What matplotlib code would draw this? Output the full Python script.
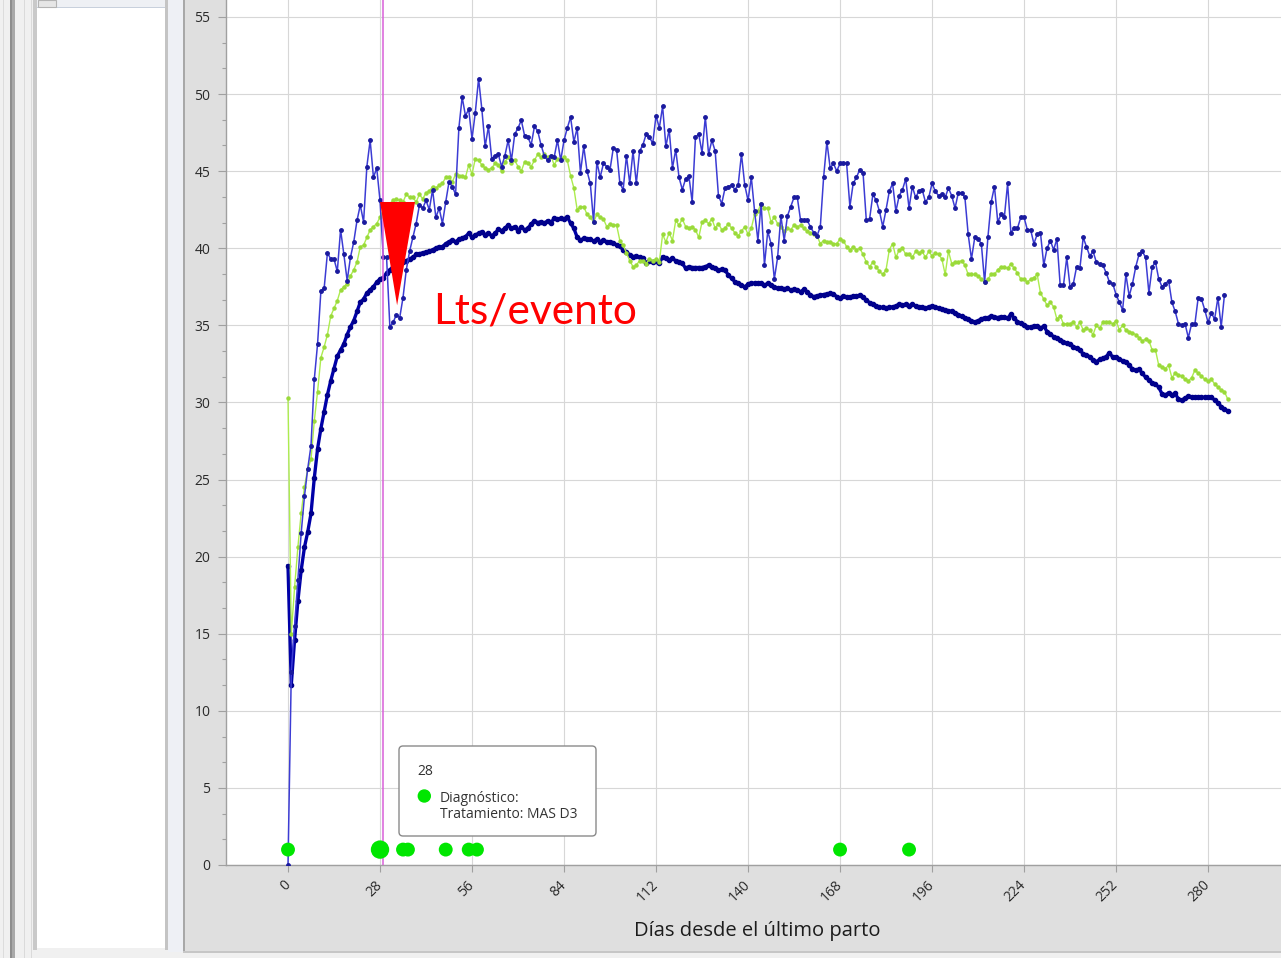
import numpy as np
import matplotlib
matplotlib.use('Agg')
import matplotlib.pyplot as plt
from matplotlib.patches import Rectangle, FancyBboxPatch, Circle
from matplotlib.transforms import IdentityTransform
from matplotlib import font_manager as fm

W, H = 1281, 958

installed = {f.name for f in fm.fontManager.ttflist}
UI_FONT = 'Open Sans' if 'Open Sans' in installed else 'DejaVu Sans'
BIG_FONT = 'Lato' if 'Lato' in installed else UI_FONT
plt.rcParams['font.family'] = [UI_FONT, 'DejaVu Sans']

# ---------------- data ----------------
# individual daily yield (thin blue), days 0..285
thin_blue = [
    0.0, 12.5, 15.5, 18.5, 21.5, 23.9, 25.7, 27.2, 31.5, 33.8,
    37.2, 37.4, 39.7, 39.3, 39.3, 38.5, 41.2, 39.6, 37.9, 39.4,
    40.4, 41.8, 42.8, 41.7, 45.3, 47.0, 44.6, 45.2, 43.1, 39.4,
    39.4, 34.9, 35.2, 35.7, 35.5, 36.8, 38.6, 39.8, 40.7, 41.6,
    42.8, 42.6, 43.1, 42.5, 43.8, 42.0, 42.6, 41.6, 43.0, 44.3,
    44.0, 43.5, 47.8, 49.8, 48.6, 49.0, 47.1, 48.8, 51.0, 49.0,
    46.6, 47.9, 45.8, 46.0, 46.1, 45.3, 46.0, 47.0, 45.7, 47.4,
    47.8, 48.3, 47.3, 47.2, 46.7, 47.9, 47.6, 46.7, 46.0, 45.7,
    46.0, 45.9, 47.0, 45.7, 47.0, 47.8, 48.5, 46.9, 47.8, 44.9,
    46.6, 45.0, 44.2, 41.7, 45.6, 44.6, 45.5, 45.3, 45.1, 46.5,
    46.4, 44.2, 43.8, 46.0, 44.2, 46.3, 44.2, 46.3, 46.7, 47.4,
    47.2, 46.8, 48.6, 47.8, 49.2, 46.6, 47.7, 45.2, 46.4, 44.6,
    43.8, 44.5, 44.7, 43.0, 47.2, 47.4, 46.2, 48.5, 46.1, 47.0,
    46.3, 43.4, 42.9, 43.9, 44.0, 44.1, 43.8, 44.1, 46.1, 44.1,
    43.1, 44.6, 42.4, 40.5, 42.9, 38.9, 41.1, 40.3, 38.0, 39.4,
    42.1, 40.5, 42.1, 42.7, 43.3, 43.3, 41.8, 41.8, 41.8, 41.4,
    41.0, 40.8, 41.4, 44.6, 46.9, 45.2, 45.5, 45.0, 45.5, 45.5,
    45.5, 42.7, 44.2, 44.6, 45.1, 44.9, 41.8, 41.9, 43.5, 43.1,
    42.4, 41.4, 42.5, 43.7, 44.2, 42.4, 43.4, 43.8, 44.5, 42.6,
    44.0, 43.3, 43.7, 43.8, 43.0, 43.3, 44.2, 43.7, 43.4, 43.5,
    43.3, 43.9, 43.4, 42.6, 43.6, 43.6, 43.3, 40.9, 39.3, 40.7,
    40.6, 40.3, 37.8, 40.7, 43.0, 44.0, 41.7, 42.2, 42.0, 44.2,
    41.0, 41.3, 41.3, 42.0, 42.0, 41.2, 41.2, 40.3, 40.9, 41.0,
    38.9, 40.0, 40.5, 39.9, 40.6, 37.6, 37.6, 39.4, 37.5, 37.7,
    38.8, 38.7, 40.7, 40.1, 39.5, 39.8, 39.1, 39.0, 38.9, 38.4,
    37.8, 37.7, 37.0, 36.5, 36.0, 38.3, 36.9, 37.7, 38.8, 39.6,
    39.8, 39.4, 37.1, 38.8, 39.1, 38.0, 37.5, 37.7, 37.9, 36.5,
    35.9, 35.1, 35.0, 35.1, 34.2, 35.1, 35.1, 36.8, 36.7, 36.0,
    35.2, 35.8, 35.4, 36.8, 34.9, 37.0,
]

# reference curve (light green), days 0..286
green_line = [
    30.3, 15.0, 18.0, 20.6, 22.8, 24.5, 25.7, 26.3, 28.8, 30.7,
    32.9, 33.6, 34.4, 35.6, 36.1, 36.6, 37.3, 37.5, 37.7, 38.2,
    38.6, 39.1, 40.1, 40.2, 40.7, 41.2, 41.4, 41.6, 42.0, 42.3,
    42.6, 42.9, 43.1, 43.2, 43.1, 43.0, 43.5, 43.3, 43.3, 43.0,
    43.5, 43.2, 43.6, 43.7, 44.0, 43.9, 44.1, 44.2, 44.6, 44.6,
    44.3, 44.8, 44.7, 44.7, 44.6, 45.4, 44.8, 45.8, 45.7, 45.4,
    45.2, 45.1, 45.2, 45.5, 45.4, 45.0, 45.6, 45.9, 45.5, 45.7,
    45.3, 45.0, 45.6, 45.5, 45.3, 45.7, 46.1, 45.9, 46.1, 45.9,
    46.0, 45.4, 45.8, 45.8, 45.9, 45.7, 44.7, 43.9, 42.5, 42.7,
    42.7, 42.2, 42.0, 41.7, 42.2, 42.0, 41.9, 41.4, 41.6, 41.5,
    41.5, 40.5, 40.2, 39.7, 39.2, 38.8, 38.9, 39.2, 39.2, 39.0,
    39.3, 39.2, 39.3, 39.1, 40.9, 40.4, 41.0, 40.5, 41.8, 41.5,
    41.9, 41.4, 41.3, 41.4, 41.2, 40.7, 41.7, 41.8, 41.6, 41.9,
    41.3, 41.6, 41.2, 41.3, 41.6, 41.3, 41.0, 40.8, 41.1, 41.4,
    40.9, 41.3, 42.2, 42.4, 42.9, 42.6, 42.6, 41.7, 42.0, 41.6,
    41.4, 41.1, 41.3, 41.2, 41.5, 41.4, 41.5, 41.3, 41.1, 41.0,
    40.9, 40.8, 40.3, 40.5, 40.4, 40.4, 40.3, 40.3, 40.6, 40.5,
    40.1, 39.9, 40.1, 39.9, 40.0, 39.6, 39.1, 38.8, 39.1, 38.8,
    38.5, 38.3, 38.6, 39.9, 40.3, 39.4, 39.9, 40.0, 39.6, 39.6,
    39.4, 39.8, 39.7, 39.8, 39.4, 39.8, 39.5, 39.7, 39.6, 39.3,
    38.3, 39.8, 39.0, 39.1, 39.1, 39.2, 38.9, 38.3, 38.3, 38.3,
    38.2, 38.0, 37.8, 38.0, 38.3, 38.3, 38.6, 38.8, 38.8, 38.7,
    39.0, 38.7, 38.4, 38.0, 38.0, 37.8, 38.0, 38.1, 38.3, 37.1,
    36.7, 36.3, 36.5, 36.2, 35.4, 35.6, 35.1, 35.1, 35.1, 35.2,
    34.9, 35.2, 34.7, 34.8, 34.7, 34.4, 35.0, 34.8, 35.2, 35.2,
    35.2, 35.1, 35.3, 34.7, 35.0, 34.7, 34.6, 34.5, 34.4, 34.2,
    34.0, 34.1, 34.0, 33.4, 33.4, 32.4, 32.3, 32.2, 32.4, 31.6,
    31.9, 31.8, 31.7, 31.5, 31.4, 31.6, 32.1, 31.9, 31.7, 31.5,
    31.4, 31.5, 31.2, 31.0, 30.8, 30.7, 30.2,
]

# smoothed curve (thick dark blue), days 0..286
thick_blue = [
    19.4, 11.7, 14.6, 17.1, 19.1, 20.6, 21.6, 22.8, 25.1, 27.0,
    28.3, 29.4, 30.5, 31.4, 32.2, 33.0, 33.4, 33.8, 34.4, 34.9,
    35.3, 35.9, 36.5, 36.7, 37.1, 37.3, 37.5, 37.8, 38.0, 38.1,
    38.4, 38.6, 38.8, 38.9, 39.0, 39.1, 39.2, 39.3, 39.4, 39.6,
    39.65, 39.7, 39.75, 39.8, 39.9, 40.0, 40.1, 40.1, 40.3, 40.42,
    40.53, 40.42, 40.58, 40.64, 40.75, 40.97, 40.71, 40.86, 40.97, 41.07,
    40.86, 41.01, 40.79, 40.97, 41.22, 41.14, 41.29, 41.50, 41.29, 41.40,
    41.14, 41.40, 41.18, 41.29, 41.57, 41.79, 41.66, 41.72, 41.61, 41.79,
    41.66, 41.94, 41.87, 41.94, 41.87, 42.05, 41.61, 41.29, 40.71, 40.53,
    40.64, 40.58, 40.58, 40.47, 40.58, 40.42, 40.53, 40.42, 40.42, 40.36,
    40.21, 40.14, 39.88, 39.77, 39.56, 39.45, 39.50, 39.40, 39.34, 39.06,
    39.19, 39.13, 39.19, 39.02, 39.45, 39.34, 39.23, 39.34, 39.19, 39.13,
    39.02, 38.70, 38.80, 38.75, 38.75, 38.75, 38.75, 38.80, 38.91, 38.80,
    38.70, 38.59, 38.64, 38.59, 38.26, 38.05, 37.83, 37.72, 37.61, 37.50,
    37.66, 37.76, 37.72, 37.76, 37.72, 37.61, 37.72, 37.61, 37.50, 37.40,
    37.45, 37.33, 37.40, 37.29, 37.33, 37.29, 37.18, 37.33, 37.18, 36.96,
    36.86, 36.91, 36.96, 37.00, 37.03, 37.07, 37.03, 36.86, 36.75, 36.90,
    36.86, 36.82, 36.90, 36.90, 36.96, 36.82, 36.64, 36.47, 36.38, 36.25,
    36.16, 36.16, 36.10, 36.16, 36.20, 36.25, 36.38, 36.30, 36.38, 36.25,
    36.38, 36.25, 36.16, 36.16, 36.10, 36.20, 36.25, 36.20, 36.10, 36.03,
    35.99, 35.95, 35.90, 35.80, 35.70, 35.60, 35.50, 35.40, 35.30, 35.20,
    35.30, 35.40, 35.50, 35.50, 35.60, 35.55, 35.50, 35.56, 35.52, 35.45,
    35.73, 35.45, 35.24, 35.13, 35.02, 34.91, 34.87, 34.96, 34.96, 34.80,
    34.96, 34.59, 34.44, 34.26, 34.16, 34.05, 33.94, 33.83, 33.79, 33.61,
    33.51, 33.40, 33.14, 33.07, 32.97, 32.75, 32.64, 32.79, 32.86, 32.97,
    33.23, 32.92, 32.92, 32.79, 32.71, 32.64, 32.43, 32.15, 32.10, 32.15,
    31.89, 31.63, 31.45, 31.28, 31.19, 30.98, 30.55, 30.48, 30.63, 30.48,
    30.59, 30.20, 30.16, 30.26, 30.42, 30.37, 30.33, 30.33, 30.33, 30.33,
    30.37, 30.33, 30.16, 29.98, 29.72, 29.55, 29.46,
]

event_days = [0, 28, 35, 36.5, 48, 55, 57.5, 168, 189]
event_level = 1
selected_event = 28
cursor_day = 28.8
x_ticks = list(range(0, 281, 28))
y_ticks = list(range(0, 56, 5))
x_label = 'Días desde el último parto'
annotation_text = 'Lts/evento'
tooltip_title = '28'
tooltip_lines = ['Diagnóstico:', 'Tratamiento: MAS D3']

# ---------------- figure & window chrome ----------------
fig = plt.figure(figsize=(W / 100, H / 100), dpi=100)
fig.patch.set_facecolor('#f0f0f0')
ID = IdentityTransform()


def px_rect(x0, y0, x1, y1, color, z=-10, ec='none', lw=0):
    r = Rectangle((x0, H - y1), x1 - x0, y1 - y0, transform=ID,
                  facecolor=color, edgecolor=ec, lw=lw, zorder=z)
    fig.add_artist(r)


px_rect(0, 0, W, H, '#f0f0f0', z=-20)
px_rect(3, 0, 4, H, '#dcdcdc')
px_rect(10, 0, 12, H, '#8e8e8e')
px_rect(12, 0, 15, H, '#a9a9a9')
px_rect(24, 0, 25, H, '#dadada')
px_rect(31, 0, 32, H, '#dadada')
px_rect(33, 0, 37, 950, '#c9c9c9')
px_rect(37, 0, 165, 948, '#ffffff')
px_rect(37, 0, 165, 7, '#eef0f4')
px_rect(37, 7, 165, 8, '#c8d0dc')
px_rect(38, 0, 56, 7, '#e6e6e6', ec='#b4b4b4', lw=0.8)
px_rect(165, 0, 168, 950, '#c4c4c4')
px_rect(168, 0, 183, 952, '#eef0f5')
px_rect(183, 0, 185, 952, '#a8a8a8')
px_rect(185, 0, W, 951, '#dfdfdf')
px_rect(183, 951, W, 953, '#c6c6c6')

# ---------------- axes ----------------
ax = fig.add_axes([226 / W, 1 - 865 / H, (W - 226) / W, 865 / H])
ax.set_facecolor('white')

ax.plot(np.arange(len(thick_blue)), thick_blue, color='#0000a8', lw=2.4,
        marker='o', ms=3.0, mfc='#00008c', mec='#00008c', zorder=3)
ax.plot(np.arange(len(green_line)), green_line, color='#acec4e', lw=1.0,
        marker='o', ms=2.2, mfc='#9ada3a', mec='#9ada3a', zorder=4)
ax.plot(np.arange(len(thin_blue)), thin_blue, color='#3c3cd4', lw=1.1,
        marker='o', ms=2.5, mfc='#1a1a9e', mec='#1a1a9e', zorder=5)

ax.axvline(cursor_day, color='#d95fd9', lw=1.1, zorder=6)

sizes = [175 if d == selected_event else 100 for d in event_days]
ax.scatter(event_days, [event_level] * len(event_days), s=sizes,
           color='#00e600', edgecolors='none', zorder=7, clip_on=False)

# red annotation triangle + label
ax.fill([selected_event, selected_event + 10.65, selected_event + 5.2],
        [43.0, 43.0, 36.3], color='#ff0000', lw=0, zorder=8)
ax.text(44.1, 35.12, annotation_text, color='#ff0000', fontsize=30.6,
        family=[BIG_FONT, 'DejaVu Sans'], ha='left', va='baseline', zorder=9)

ax.set_xlim(-18.87, 302.2)
ax.set_ylim(0, 56.1)
for s in ['top', 'right']:
    ax.spines[s].set_visible(False)
for s in ['left', 'bottom']:
    ax.spines[s].set_color('#a0a0a0')
    ax.spines[s].set_linewidth(1.0)

ax.set_xticks(x_ticks)
ax.set_yticks(y_ticks)
ax.set_yticks(np.arange(0, 56, 5 / 3), minor=True)
ax.grid(True, which='major', color='#d7d7d7', lw=0.8, zorder=0)
ax.set_axisbelow(True)
ax.tick_params(axis='y', which='major', length=5.8, width=0.8, color='#a0a0a0',
               pad=5.5, labelsize=10, labelcolor='#2a2a2a')
ax.tick_params(axis='y', which='minor', length=3, width=0.8, color='#a0a0a0')
ax.tick_params(axis='x', which='major', length=5, width=0.8, color='#a0a0a0',
               pad=8, labelsize=10, labelcolor='#2a2a2a')
for lbl in ax.get_xticklabels():
    lbl.set_rotation(45)
    lbl.set_ha('right')
    lbl.set_va('center')
    lbl.set_rotation_mode('anchor')

ax.set_xlabel(x_label, fontsize=14.5, color='#1c1c1c')
ax.xaxis.label.set_va('baseline')
ax.xaxis.set_label_coords((757 - 226) / (W - 226), -(936 - 865) / 865)

# ---------------- tooltip ----------------
box = FancyBboxPatch((399, H - 836), 197, 90,
                     boxstyle='round,pad=0,rounding_size=4', transform=ID,
                     facecolor='white', edgecolor='#8a8a8a', lw=1.0, zorder=20)
fig.add_artist(box)
fig.add_artist(Circle((424.3, H - 796), 6.0, transform=ID, color='#00e600', zorder=21))
fig.text(417, H - 775, tooltip_title, transform=ID, fontsize=10,
         color='#333333', ha='left', va='baseline', zorder=21)
fig.text(440, H - 801.5, tooltip_lines[0], transform=ID, fontsize=10,
         color='#333333', ha='left', va='baseline', zorder=21)
fig.text(440, H - 818, tooltip_lines[1], transform=ID, fontsize=10,
         color='#333333', ha='left', va='baseline', zorder=21)

fig.savefig('out.png', dpi=100, facecolor=fig.get_facecolor())
